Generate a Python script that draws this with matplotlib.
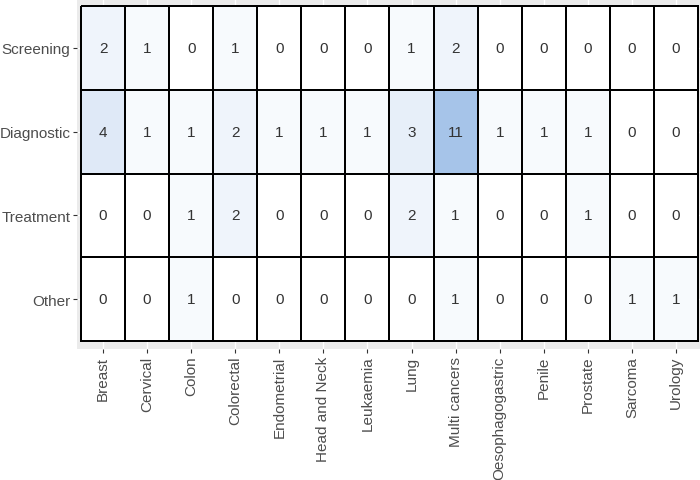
import matplotlib
matplotlib.use("Agg")
import matplotlib.pyplot as plt
from matplotlib.colors import LinearSegmentedColormap
import numpy as np

cancers = ["Breast", "Cervical", "Colon", "Colorectal", "Endometrial", "Head and Neck",
           "Leukaemia", "Lung", "Multi cancers", "Oesophagogastric", "Penile",
           "Prostate", "Sarcoma", "Urology"]
stages = ["Screening", "Diagnostic", "Treatment", "Other"]

screening = [2, 1, 0, 1, 0, 0, 0, 1, 2, 0, 0, 0, 0, 0]
diagnostic = [4, 1, 1, 2, 1, 1, 1, 3, 11, 1, 1, 1, 0, 0]
treatment = [0, 0, 1, 2, 0, 0, 0, 2, 1, 0, 0, 1, 0, 0]
other = [0, 0, 1, 0, 0, 0, 0, 0, 1, 0, 0, 0, 1, 1]

counts = np.array([screening, diagnostic, treatment, other])

plt.rcParams["font.family"] = ["Liberation Sans", "DejaVu Sans"]

fig = plt.figure(figsize=(7, 4.81), dpi=100)
# panel extends slightly past the top/right edge like the original crop
ax = fig.add_axes([0.1094, 0.2715, 0.894, 0.7313])
ax.set_facecolor("#EBEBEB")

cmap = LinearSegmentedColormap.from_list("wb", ["#FFFFFF", "#A6C4E9"])
nx, ny = len(cancers), len(stages)
xe = np.arange(nx + 1) - 0.5
ye = np.arange(ny + 1) - 0.5
ax.pcolormesh(xe, ye, counts, cmap=cmap, vmin=0, vmax=counts.max(),
              edgecolors="black", linewidth=1.1, zorder=2)

for i in range(ny):
    for j in range(nx):
        ax.text(j, i, str(counts[i, j]), ha="center", va="center",
                fontsize=11, color="#333333", zorder=3)

ax.set_xlim(-0.6, nx - 0.4)
ax.set_ylim(ny - 0.4, -0.6)
ax.set_xticks(range(nx))
ax.set_xticklabels(cancers, rotation=90)
ax.set_yticks(range(ny))
ax.set_yticklabels(stages)
ax.tick_params(axis="both", length=3, width=0.8, color="#333333",
               labelsize=11, labelcolor="#4D4D4D", pad=1.5)
ax.grid(True, color="white", linewidth=1.0, zorder=0)
ax.set_axisbelow(True)
for s in ax.spines.values():
    s.set_visible(False)

fig.savefig("out.png", dpi=100)
